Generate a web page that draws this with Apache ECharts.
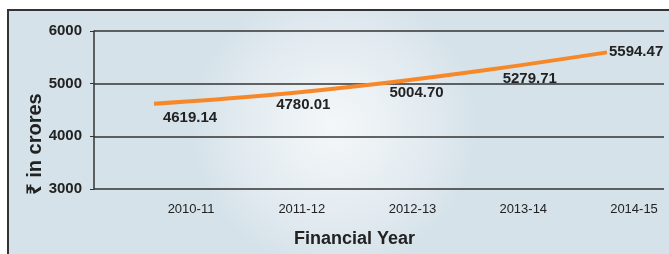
<!DOCTYPE html>
<html>
<head>
<meta charset="utf-8">
<script src="https://cdn.jsdelivr.net/npm/echarts@6/dist/echarts.min.js"></script>
<style>
html,body{margin:0;padding:0;background:#fff;}
#main{width:669px;height:254px;}
</style>
</head>
<body>
<div id="main"></div>
<script>
var years = ['2010-11', '2011-12', '2012-13', '2013-14', '2014-15'];
var values = [4619.14, 4780.01, 5004.70, 5279.71, 5594.47];
var yTicks = [3000, 4000, 5000, 6000];

var myChart = echarts.init(document.getElementById('main'));

var sans = "'Liberation Sans', Arial, 'Noto Sans', sans-serif";

var yMin = yTicks[0], yMax = yTicks[yTicks.length - 1];

myChart.setOption({
	backgroundColor: '#fff',
	animation: false,
	graphic: [{
		type: 'rect',
		z: -10,
		shape: { x: 8, y: 10, width: 680, height: 260 },
		style: {
			fill: {
				type: 'radial', x: 0.48, y: 0.45, r: 0.55,
				colorStops: [
					{ offset: 0, color: '#f4f7f9' },
					{ offset: 0.6, color: '#e4ecf1' },
					{ offset: 1, color: '#d5e2e9' }
				]
			},
			stroke: '#333',
			lineWidth: 2
		}
	}],
	grid: [
		{ left: 94, right: 5, top: 31, bottom: 65 },
		{ left: 154, right: 62, top: 31, bottom: 65 },
		{ left: 191, right: 35, top: 31, bottom: 65 }
	],
	xAxis: [{
		gridIndex: 0, type: 'category', data: years,
		axisLine: { show: false }, axisTick: { show: false }, axisLabel: { show: false }
	}, {
		gridIndex: 1, type: 'category', data: years, boundaryGap: false,
		show: false
	}, {
		gridIndex: 2, type: 'category', data: years, boundaryGap: false,
		name: 'Financial Year', nameLocation: 'middle', nameGap: 41,
		nameTextStyle: { fontFamily: sans, fontWeight: 'bold', fontSize: 18, color: '#222', padding: [0, 116, 0, 0] },
		axisLine: { show: false }, axisTick: { show: false },
		axisLabel: { fontFamily: sans, fontSize: 13, color: '#222', margin: 14 }
	}],
	yAxis: [{
		gridIndex: 0, type: 'value', min: yMin, max: yMax, interval: 1000,
		name: '\u20b9 in crores', nameLocation: 'middle', nameGap: 49, nameRotate: 90,
		nameMoveOverlap: false,
		nameTextStyle: { fontFamily: sans, fontWeight: 'bold', fontSize: 20, color: '#222', padding: [0, 68, 0, 0] },
		axisLine: { show: true, lineStyle: { color: '#333', width: 1.5 } },
		axisTick: { show: true, length: 4, lineStyle: { color: '#333' } },
		axisLabel: {
			fontFamily: sans, fontWeight: 'bold', fontSize: 15, color: '#222', margin: 12,
			formatter: function (v) { return String(v); }
		},
		splitLine: { show: true, lineStyle: { color: '#333', width: 1.5 } }
	}, {
		gridIndex: 1, type: 'value', min: yMin, max: yMax, show: false
	}, {
		gridIndex: 2, type: 'value', min: yMin, max: yMax, show: false
	}],
	series: [{
		type: 'line',
		xAxisIndex: 1, yAxisIndex: 1,
		data: values,
		smooth: 0.4,
		showSymbol: true,
		symbol: 'circle',
		symbolSize: 2,
		itemStyle: { color: 'rgba(0,0,0,0)', borderWidth: 0 },
		lineStyle: { color: '#f7882a', width: 4 },
		label: {
			show: true,
			position: 'bottom',
			distance: 4,
			formatter: function (p) { return p.value.toFixed(2); },
			fontFamily: sans, fontWeight: 'bold', fontSize: 15, color: '#222'
		},
		labelLayout: function (p) {
			if (p.dataIndex === values.length - 1) {
				return { dx: p.labelRect.width / 2 + 2, dy: -13 };
			}
			return { dx: 36, dy: p.dataIndex === 0 ? 2 : -3 };
		}
	}]
});
</script>
</body>
</html>
